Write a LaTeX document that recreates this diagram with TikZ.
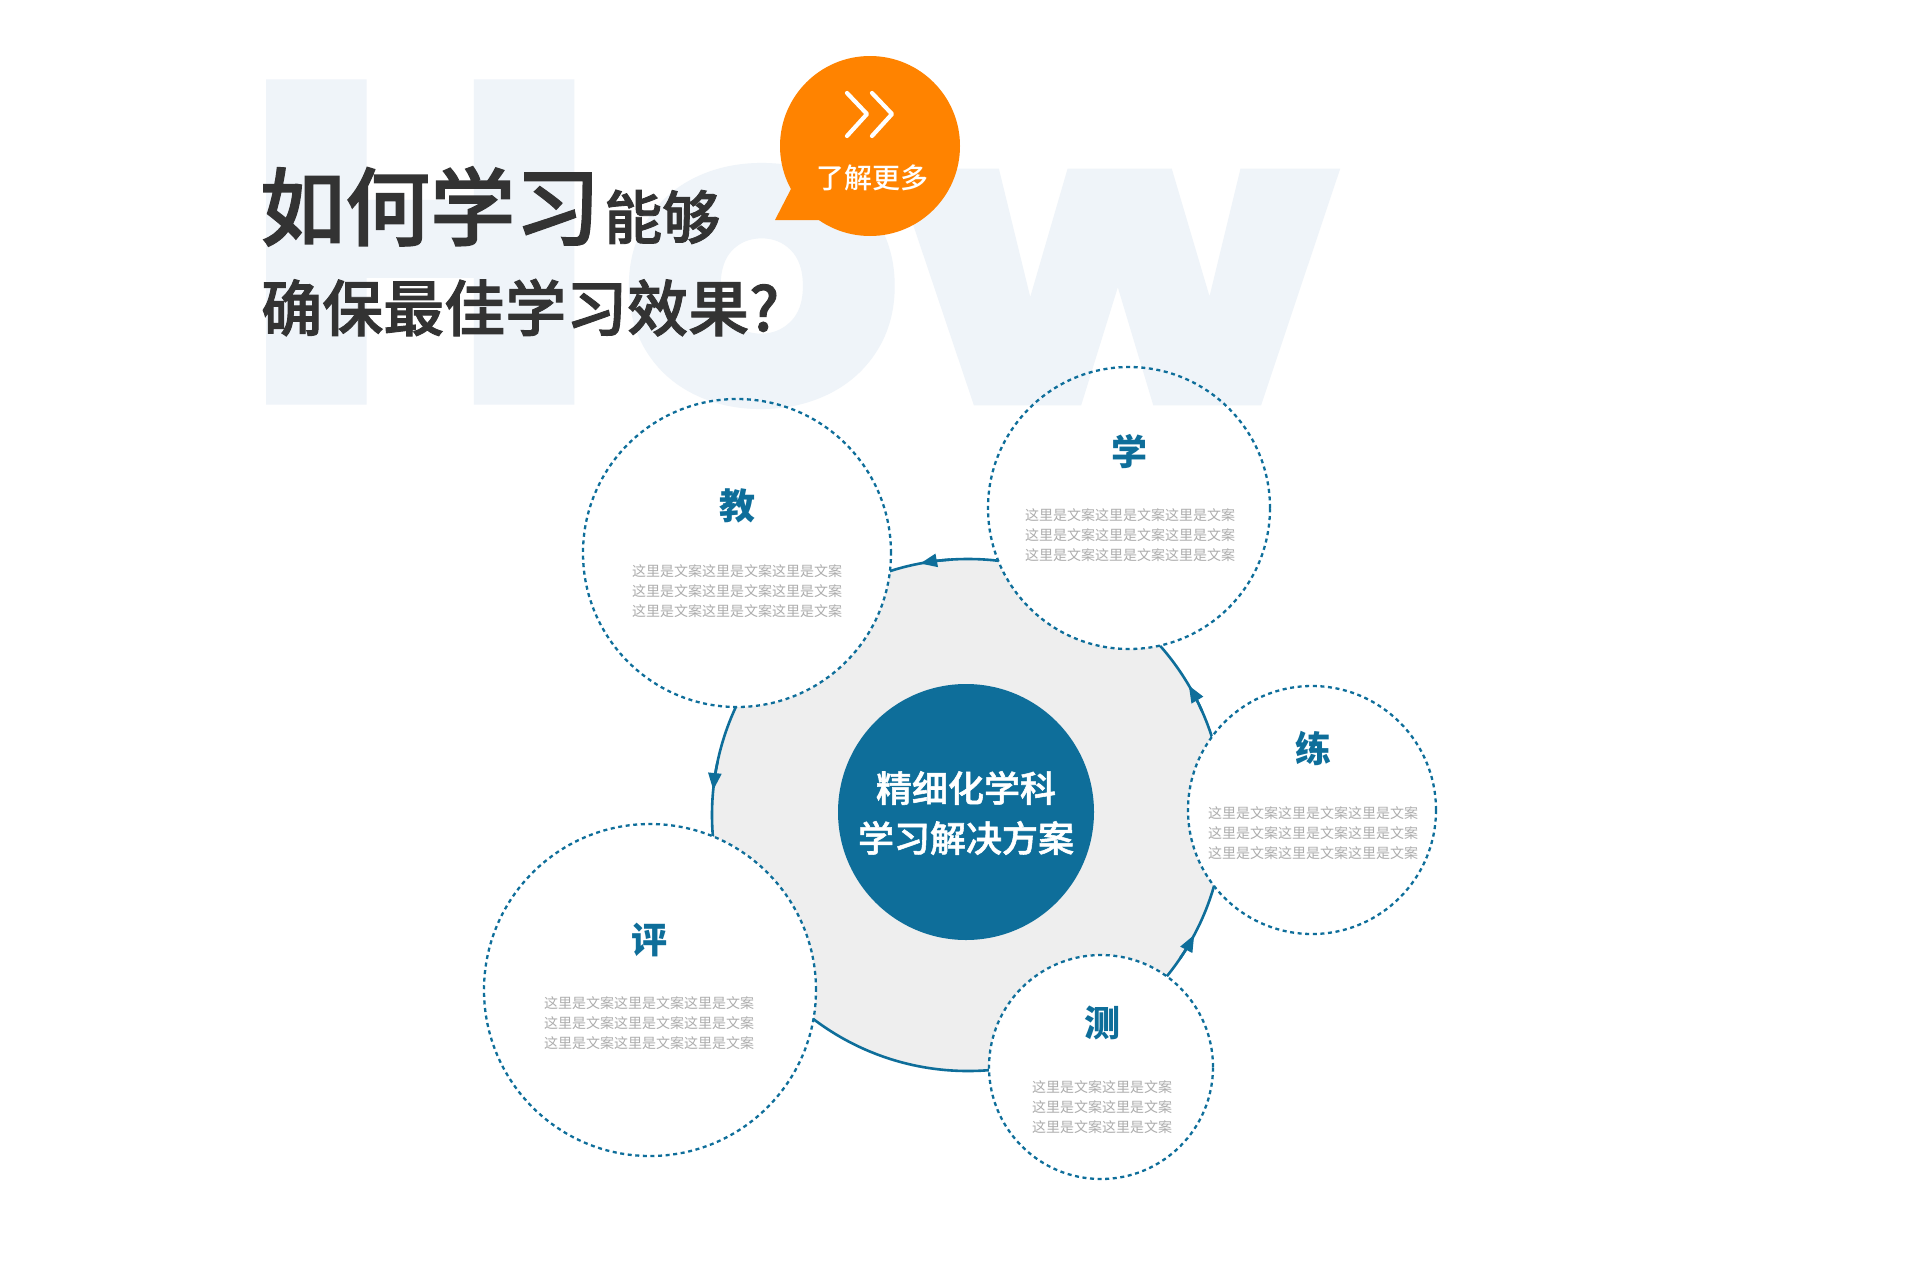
\documentclass[tikz,border=0pt]{standalone}
\usepackage{fontspec}
\newfontfamily\cjk{Noto Sans CJK SC}
\IfFontExistsTF{Noto Sans CJK SC Medium}
  {\newfontfamily\cjkmed{Noto Sans CJK SC Medium}%
   \newfontfamily\cjkheavy{Noto Sans CJK SC Medium}[FakeBold=1.5]}
  {\def\cjkmed{\cjk\bfseries}\def\cjkheavy{\cjk\bfseries}}
\newfontfamily\howfont{Poppins}[UprightFont={* Bold}, FakeBold=4]
\usetikzlibrary{arrows.meta}
\definecolor{mblue}{HTML}{0E6E9A}
\definecolor{morange}{HTML}{FF8300}
\definecolor{discgray}{HTML}{EEEEEE}
\definecolor{wmark}{HTML}{EFF4F9}
\definecolor{titlegray}{HTML}{333333}
\definecolor{bodygray}{HTML}{ADADAD}
\begin{document}
\begin{tikzpicture}[x=1pt,y=1pt,
  dashcirc/.style={circle, draw=mblue, line width=2.3pt, dash pattern=on 4pt off 3.6pt, inner sep=0pt},
  arcline/.style={draw=mblue, line width=2.6pt},
  tipped/.style={arcline, -{Triangle[length=17pt,width=13pt]}},
  lbl/.style={inner sep=0pt, text=mblue, font={\cjk\bfseries\fontsize{36}{36}\selectfont}},
  bodytxt/.style={inner sep=0pt, text=bodygray, align=center, font={\cjk\fontsize{14}{20}\selectfont}},
  wm/.style={inner sep=0pt, text=wmark, anchor=center, font={\howfont\fontsize{466}{466}\selectfont}},
]
\useasboundingbox (0,0) rectangle (1920,-1261);
\fill[white] (0,0) rectangle (1920,-1261);

% centres
\coordinate (hubc) at (968,-815);
\coordinate (cj) at (737,-553);
\coordinate (cx) at (1129,-508);
\coordinate (cl) at (1312,-810);
\coordinate (cc) at (1101,-1067);
\coordinate (cp) at (650,-990);

% grey disc and its blue rim
\fill[discgray] (hubc) circle (256);
\draw[arcline] (hubc) circle (256);
\draw[tipped] ([shift={(94:256)}]hubc) arc[start angle=94, end angle=100.8, radius=256];
\draw[tipped] ([shift={(168:256)}]hubc) arc[start angle=168, end angle=174.4, radius=256];
\draw[tipped] ([shift={(24:256)}]hubc) arc[start angle=24, end angle=30.4, radius=256];
\draw[tipped] ([shift={(-34:256)}]hubc) arc[start angle=-34, end angle=-27.9, radius=256];

% white interiors of the five circles
\fill[white] (cj) circle (154);
\fill[white] (cx) circle (141);
\fill[white] (cl) circle (124);
\fill[white] (cc) circle (112);
\fill[white] (cp) circle (166);

% watermark
\node[wm, xscale=1.02, yscale=0.94] (howH) at (420,-242) {H};
\node[wm, xscale=0.92, yscale=0.86] (howO) at (762,-286) {o};
\node[wm, xscale=1.05, yscale=0.85] (howW) at (1117,-287) {w};

% centre disc
\node[circle, fill=mblue, minimum size=256, inner sep=0pt] (hub) at (966,-812) {};
\node[inner sep=0pt, text=white, align=center, font={\cjkheavy\fontsize{36}{50}\selectfont}] (hubtxt) at (966,-813) {精细化学科\\学习解决方案};

% dashed circles
\node[dashcirc, minimum size=308] (jiao) at (cj) {};
\node[dashcirc, minimum size=282] (xue) at (cx) {};
\node[dashcirc, minimum size=248] (lian) at (cl) {};
\node[dashcirc, minimum size=224] (ce) at (cc) {};
\node[dashcirc, minimum size=332] (ping) at (cp) {};

% labels and texts
\node[lbl] (jiaoL) at (737,-506) {教};
\node[bodytxt] (jiaoB) at (737,-591) {这里是文案这里是文案这里是文案\\这里是文案这里是文案这里是文案\\这里是文案这里是文案这里是文案};
\node[lbl] (xueL) at (1129,-452) {学};
\node[bodytxt] (xueB) at (1130,-535) {这里是文案这里是文案这里是文案\\这里是文案这里是文案这里是文案\\这里是文案这里是文案这里是文案};
\node[lbl] (lianL) at (1313,-748) {练};
\node[bodytxt] (lianB) at (1313,-833) {这里是文案这里是文案这里是文案\\这里是文案这里是文案这里是文案\\这里是文案这里是文案这里是文案};
\node[lbl] (ceL) at (1102,-1023) {测};
\node[bodytxt] (ceB) at (1102,-1107) {这里是文案这里是文案\\这里是文案这里是文案\\这里是文案这里是文案};
\node[lbl] (pingL) at (649,-940) {评};
\node[bodytxt] (pingB) at (649,-1023) {这里是文案这里是文案这里是文案\\这里是文案这里是文案这里是文案\\这里是文案这里是文案这里是文案};

% title
\node[anchor=base west, inner sep=0pt, text=titlegray, font={\cjkheavy}] (title1) at (260,-239) {\fontsize{85}{85}\selectfont 如何学习\hspace{4pt}\fontsize{58}{58}\selectfont 能够};
\node[anchor=base west, inner sep=0pt, text=titlegray, font={\cjkheavy\fontsize{61}{61}\selectfont}] (title2) at (261,-331) {确保最佳学习效果?};

% orange speech bubble
\node[circle, fill=morange, minimum size=180, inner sep=0pt] (bubble) at (870,-146) {};
\fill[morange] (775,-220) -- (792,-187) -- (830,-190) -- (822,-220) -- cycle;
\draw[white, line width=4.2pt, line cap=round, line join=round] (847,-93) -- (867,-114) -- (847,-136);
\draw[white, line width=4.2pt, line cap=round, line join=round] (872,-93) -- (892,-114) -- (872,-136);
\node[inner sep=0pt, text=white, font={\cjkmed\fontsize{28}{28}\selectfont}] (more) at (872,-178) {了解更多};
\end{tikzpicture}
\end{document}
